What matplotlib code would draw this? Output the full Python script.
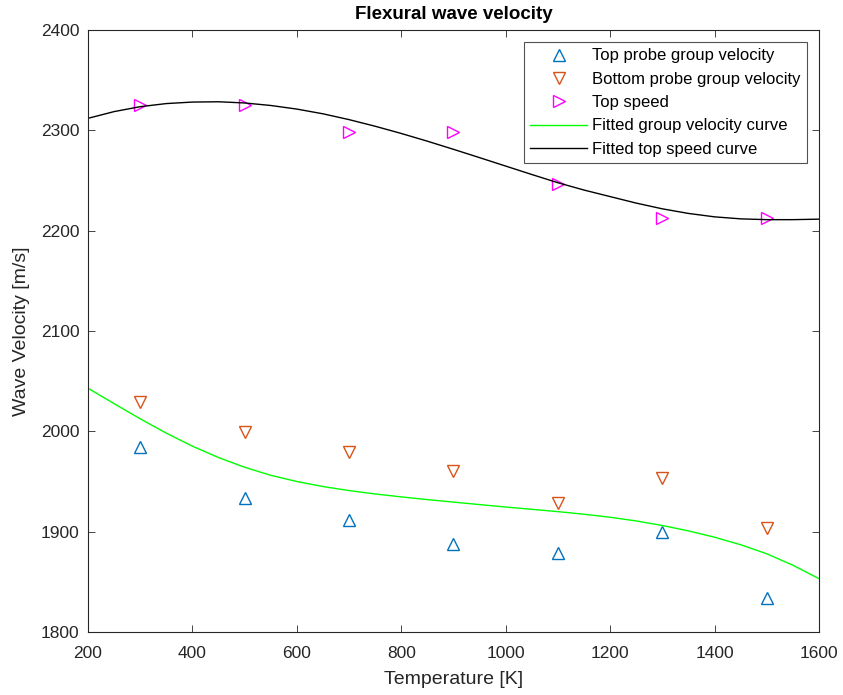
import numpy as np
import matplotlib.pyplot as plt

plt.rcParams['font.family'] = ['Liberation Sans', 'DejaVu Sans']

# Measured data
temps = [300, 500, 700, 900, 1100, 1300, 1500]
top_group = [1984, 1934, 1912, 1888, 1879, 1900, 1834]
bottom_group = [2029, 1999, 1979, 1960, 1929, 1954, 1904]
top_speed = [2325, 2325, 2298, 2298, 2247, 2213, 2213]

# Fitted curves (every 50 K)
fit_t = list(range(200, 1601, 50))
fit_group = [2043, 2027.6, 2012.5, 1998.2, 1985.2, 1973.9, 1964.2, 1956.2, 1950, 1945,
             1941, 1937.6, 1934.7, 1932, 1929.5, 1927, 1924.6, 1922.3, 1920, 1917.4,
             1914.4, 1910.7, 1906.2, 1900.8, 1894.5, 1887, 1878, 1866.6, 1853.2]
fit_speed = [2312, 2318.7, 2323.6, 2326.7, 2328.2, 2328.5, 2327.3, 2324.8, 2321.2, 2316.5,
             2310.7, 2304.1, 2296.9, 2289.2, 2281.1, 2272.8, 2264.4, 2256, 2247.8, 2240.5,
             2234, 2227.5, 2221.8, 2217.2, 2213.8, 2211.8, 2211, 2211, 2211.5]

fig = plt.figure(figsize=(8.43, 6.95), dpi=100)
ax = fig.add_axes([0.1044, 0.0906, 0.8671, 0.8662])

mk = dict(linestyle='none', markersize=9, fillstyle='none', markeredgewidth=1)
ax.plot(temps, top_group, '^', color='#0072BD', label='Top probe group velocity', **mk)
ax.plot(temps, bottom_group, 'v', color='#D95319', label='Bottom probe group velocity', **mk)
ax.plot(temps, top_speed, '>', color='#FF00FF', label='Top speed', **mk)
ax.plot(fit_t, fit_group, color='#00FF00', lw=1, label='Fitted group velocity curve')
ax.plot(fit_t, fit_speed, color='black', lw=1, label='Fitted top speed curve')

ax.set_xlim(200, 1600)
ax.set_ylim(1800, 2400)
ax.set_xticks(np.arange(200, 1601, 200))
ax.set_yticks(np.arange(1800, 2401, 100))
ax.tick_params(direction='in', top=True, right=True, labelsize=12.5, colors='#262626',
               labelcolor='#262626', length=5, width=0.6)
ax.tick_params(axis='x', pad=10)
ax.tick_params(axis='y', pad=6)
for s in ax.spines.values():
    s.set_color('#262626')
    s.set_linewidth(0.8)

ax.set_xlabel('Temperature [K]', fontsize=14, color='#262626', labelpad=7)
ax.set_ylabel('Wave Velocity [m/s]', fontsize=14, color='#262626', labelpad=8)
ax.set_title('Flexural wave velocity', fontsize=13.5, fontweight='bold', pad=8)

leg = ax.legend(loc='upper right', fontsize=12, handlelength=3.4, handletextpad=0.3,
                frameon=True, fancybox=False, edgecolor='#262626', borderaxespad=0.7,
                labelspacing=0.5, borderpad=0.4)
leg.get_frame().set_linewidth(0.8)

fig.savefig('out.png', dpi=100)
